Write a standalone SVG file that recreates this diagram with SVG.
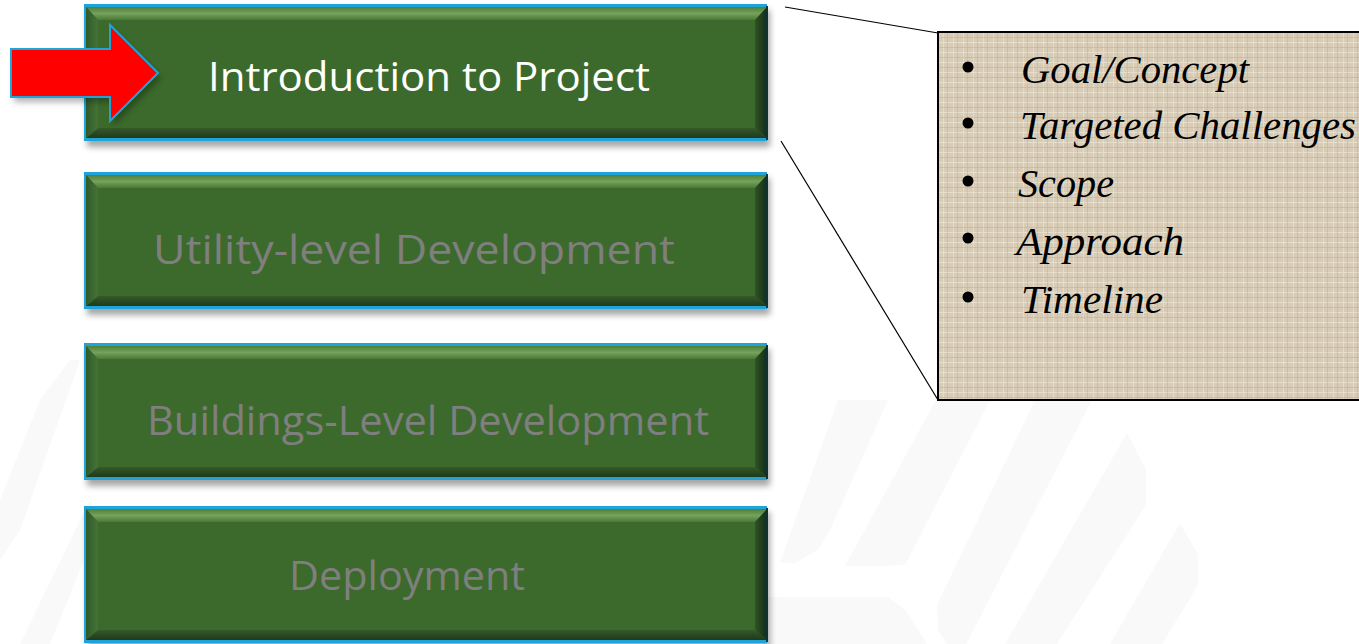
<svg xmlns="http://www.w3.org/2000/svg" xmlns:xlink="http://www.w3.org/1999/xlink" width="1359" height="644" viewBox="0 0 1359 644">
  <style>
    .lbl { font-family: "Open Sans", "Noto Sans", "Liberation Sans", sans-serif; font-size: 40px; text-anchor: middle; }
    .on { fill: #ffffff; }
    .off { fill: #7f7f7f; }
    .item { font-family: "Liberation Serif", "DejaVu Serif", serif; font-style: italic; font-size: 40px; fill: #000000; }
    .wm { fill: #f9f9f9; }
    .conn { stroke: #000000; stroke-width: 1.2; fill: none; }
  </style>
  <defs>
    <linearGradient id="gTop" x1="0" y1="0" x2="0" y2="1">
      <stop offset="0" stop-color="#4f7f39"/>
      <stop offset="0.5" stop-color="#75a25c"/>
      <stop offset="1" stop-color="#4a7a35"/>
    </linearGradient>
    <linearGradient id="gBot" x1="0" y1="0" x2="0" y2="1">
      <stop offset="0" stop-color="#35592a"/>
      <stop offset="1" stop-color="#1f3a1a"/>
    </linearGradient>
    <linearGradient id="gRight" x1="0" y1="0" x2="1" y2="0">
      <stop offset="0" stop-color="#2f5324"/>
      <stop offset="1" stop-color="#142c1a"/>
    </linearGradient>
    <linearGradient id="gLeft" x1="0" y1="0" x2="1" y2="0">
      <stop offset="0" stop-color="#2f5a2a"/>
      <stop offset="1" stop-color="#457436"/>
    </linearGradient>
    <filter id="shadow" x="-5%" y="-20%" width="110%" height="150%">
      <feGaussianBlur stdDeviation="3"/>
    </filter>
    <pattern id="burlap" width="10" height="10" patternUnits="userSpaceOnUse">
      <rect width="10" height="10" fill="#d8ccb6"/>
      <rect x="0" y="2" width="10" height="1" fill="#ebe3d4" opacity="0.8"/>
      <rect x="3" y="0" width="1" height="10" fill="#e8dfce" opacity="0.8"/>
      <rect x="0" y="7" width="10" height="1" fill="#c2b39a" opacity="0.6"/>
      <rect x="7" y="0" width="1" height="10" fill="#c5b69e" opacity="0.6"/>
    </pattern>
    <g id="box">
      <rect x="3" y="6" width="683" height="137" fill="#000000" opacity="0.35" filter="url(#shadow)"/>
      <rect x="0" y="0" width="683" height="137" fill="#1ea4d8"/>
      <rect x="2" y="3" width="681" height="131" fill="#3c6a2c"/>
      <polygon points="2,3 683,3 671,16 14,16" fill="url(#gTop)"/>
      <polygon points="2,134 683,134 671,124 14,124" fill="url(#gBot)"/>
      <polygon points="2,3 14,16 14,124 2,134" fill="url(#gLeft)"/>
      <polygon points="683,3 671,16 671,124 683,134" fill="url(#gRight)"/>
      <rect x="682" y="2" width="2" height="134" fill="#0e3334"/>
    </g>
  </defs>

  <rect width="1359" height="644" fill="#ffffff"/>

  <g id="watermark">
    <polygon class="wm" points="838,400 888,400 830,530 818,550 795,563 780,563" />
    <polygon class="wm" points="936,400 990,400 905,565 880,566 845,566" />
    <polygon class="wm" points="1035,400 1092,400 958,660 938,630 937,605" />
    <polygon class="wm" points="1127,433 1146,470 1146,505 1057,644 1005,644" />
    <polygon class="wm" points="1180,523 1198,555 1198,585 1162,644 1110,644" />
    <polygon class="wm" points="768,597 888,597 905,610 927,644 768,644" />
    <polygon class="wm" points="40,400 70,360 80,360 20,530 0,560 0,500" />
    <polygon class="wm" points="20,644 90,500 100,520 50,644" />
  </g>

  <g id="connectors">
    <line class="conn" x1="785" y1="7" x2="938" y2="33"/>
    <line class="conn" x1="781" y1="141" x2="938" y2="400"/>
  </g>

  <g id="node-intro">
    <use xlink:href="#box" x="84" y="4"/>
    <text class="lbl on" x="429" y="91" textLength="442" lengthAdjust="spacingAndGlyphs">Introduction to Project</text>
  </g>

  <g id="node-utility">
    <use xlink:href="#box" x="84" y="172"/>
    <text class="lbl off" x="414" y="264" textLength="522" lengthAdjust="spacingAndGlyphs">Utility-level Development</text>
  </g>

  <g id="node-buildings">
    <use xlink:href="#box" x="84" y="343"/>
    <text class="lbl off" x="428" y="435" textLength="562" lengthAdjust="spacingAndGlyphs">Buildings-Level Development</text>
  </g>

  <g id="node-deployment">
    <use xlink:href="#box" x="84" y="506"/>
    <text class="lbl off" x="407" y="590" textLength="236" lengthAdjust="spacingAndGlyphs">Deployment</text>
  </g>

  <g id="pointer-arrow">
    <polygon points="14,54 113,54 113,30 161,78 113,126 113,102 14,102" fill="#000000" opacity="0.3" filter="url(#shadow)"/>
    <polygon points="11,49 110,49 110,25 158,73 110,121 110,97 11,97" fill="#ff0000" stroke="#1ea4d8" stroke-width="2" stroke-linejoin="miter"/>
  </g>

  <g id="callout">
    <rect x="938" y="32" width="430" height="368" fill="url(#burlap)" stroke="#000000" stroke-width="2"/>
    <circle cx="968" cy="67" r="5.5" fill="#000"/>
    <circle cx="968" cy="123" r="5.5" fill="#000"/>
    <circle cx="968" cy="181" r="5.5" fill="#000"/>
    <circle cx="968" cy="238" r="5.5" fill="#000"/>
    <circle cx="968" cy="297" r="5.5" fill="#000"/>
    <text class="item" x="1021" y="83" textLength="228" lengthAdjust="spacingAndGlyphs">Goal/Concept</text>
    <text class="item" x="1020" y="139" textLength="336" lengthAdjust="spacingAndGlyphs">Targeted Challenges</text>
    <text class="item" x="1018" y="197" textLength="96" lengthAdjust="spacingAndGlyphs">Scope</text>
    <text class="item" x="1016" y="255" textLength="168" lengthAdjust="spacingAndGlyphs">Approach</text>
    <text class="item" x="1021" y="313" textLength="142" lengthAdjust="spacingAndGlyphs">Timeline</text>
  </g>
</svg>
